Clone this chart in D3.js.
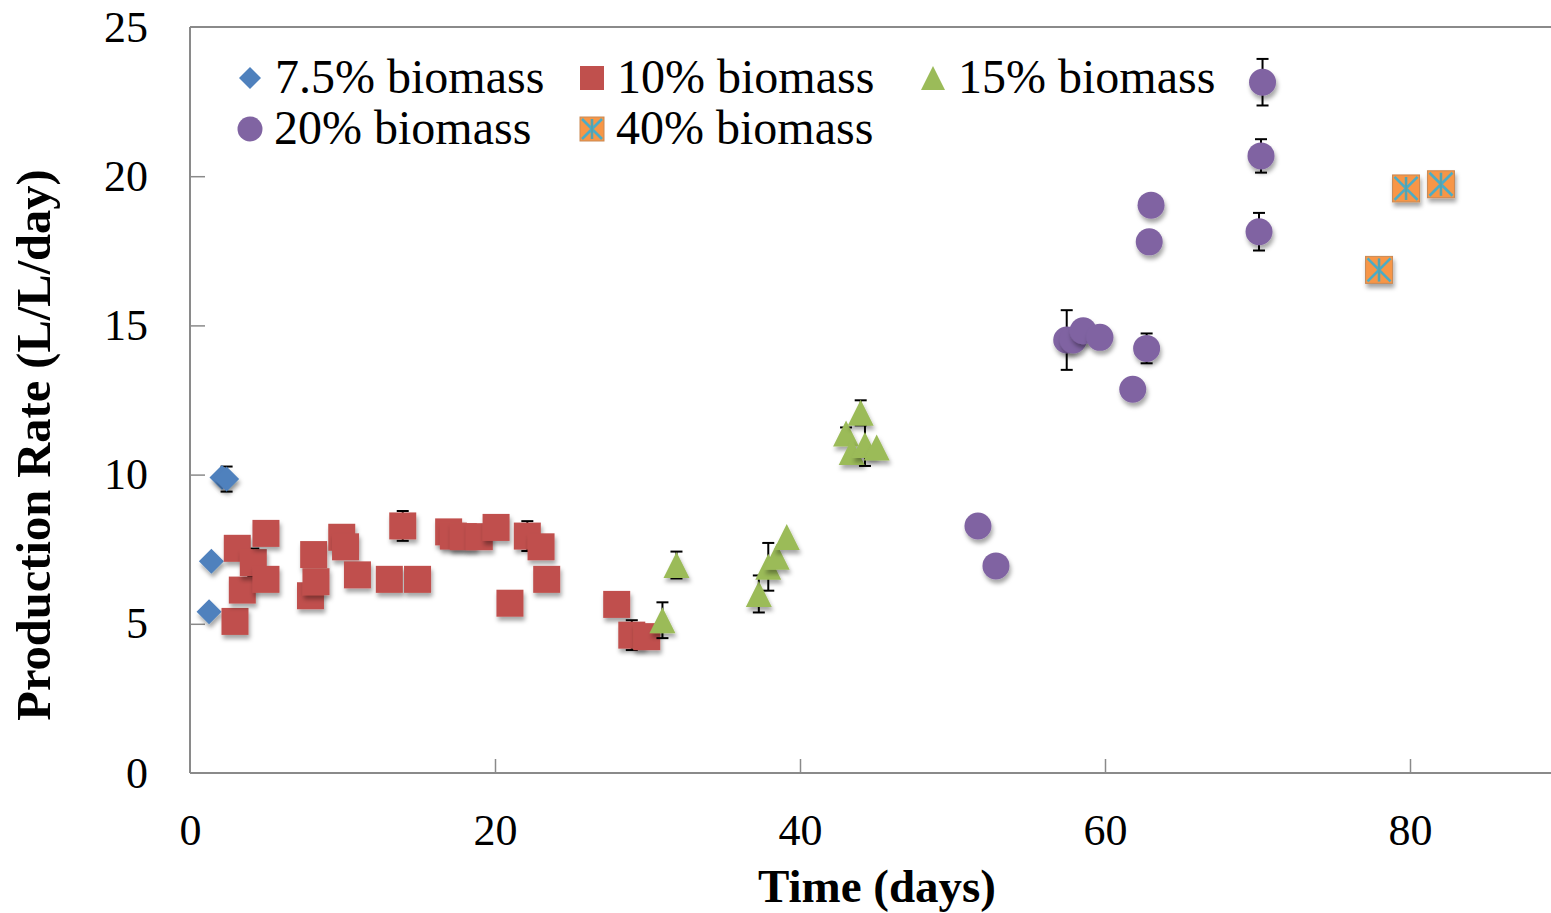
<!DOCTYPE html>
<html>
<head>
<meta charset="utf-8">
<script src="https://cdn.jsdelivr.net/npm/d3@7"></script>
<style>
  html, body { margin: 0; padding: 0; background: #fff; }
  svg { display: block; font-family: "Liberation Serif", "Times New Roman", serif; }
  svg text { font-family: "Liberation Serif", "Times New Roman", serif; }
</style>
</head>
<body>
<svg id="chart" width="1551" height="913"></svg>
<script>
// Production rate over time for different biomass loadings (mean ± error)
const days75 = [1.25, 1.4, 2.1, 2.4];
const rate75 = [5.4, 7.1, 9.9, 9.85];
const err75  = [0, 0, 0, 0.42];

const days10 = [2.95, 3.1, 3.43, 4.15, 4.98, 4.98, 7.9, 8.11, 8.26, 9.95, 10.2, 10.98,
                13.07, 13.95, 14.92, 16.96, 17.27, 17.92, 18.97, 20.07, 20.98, 22.12,
                23.02, 23.39, 27.98, 28.97, 29.95];
const rate10 = [5.08, 7.53, 6.13, 7.05, 8.03, 6.49, 5.94, 7.32, 6.41, 7.9, 7.58, 6.64,
                6.49, 8.28, 6.49, 8.08, 7.94, 7.92, 7.92, 8.23, 5.69, 7.94,
                7.58, 6.49, 5.65, 4.62, 4.57];
const err10  = [0, 0, 0, 0.47, 0, 0, 0, 0, 0, 0, 0, 0,
                0, 0.5, 0, 0, 0, 0, 0, 0, 0, 0.5,
                0, 0, 0, 0.5, 0];

const days15 = [30.98, 31.9, 37.3, 37.92, 38.47, 39.13, 43.02, 43.39, 43.98, 44.26, 45.03];
const rate15 = [5.12, 6.97, 6.0, 6.91, 7.25, 7.91, 11.38, 10.76, 12.07, 10.99, 10.91];
const err15  = [0.6, 0.45, 0.62, 0.8, 0, 0, 0.2, 0, 0.42, 0.7, 0];

const days20 = [51.67, 52.85, 57.49, 57.92, 58.57, 59.67, 61.82, 62.73, 62.9, 63.02,
                70.1, 70.23, 70.33];
const rate20 = [8.28, 6.94, 14.51, 14.51, 14.82, 14.6, 12.86, 14.23, 17.8, 19.03,
                18.14, 20.68, 23.15];
const err20  = [0, 0, 1.0, 0, 0, 0, 0, 0.5, 0, 0,
                0.63, 0.56, 0.78];

const days40 = [77.97, 79.74, 82.03];
const rate40 = [16.86, 19.59, 19.73];
const err40  = [0, 0, 0];

const seriesNames = ["7.5% biomass", "10% biomass", "15% biomass", "20% biomass", "40% biomass"];
const xTicks = [0, 20, 40, 60, 80];
const yTicks = [0, 5, 10, 15, 20, 25];

const series = [
  { name: seriesNames[0], shape: "diamond",  fill: "#4F81BD", days: days75, rate: rate75, err: err75 },
  { name: seriesNames[1], shape: "square",   fill: "#C0504D", days: days10, rate: rate10, err: err10 },
  { name: seriesNames[2], shape: "triangle", fill: "#9BBB59", days: days15, rate: rate15, err: err15 },
  { name: seriesNames[3], shape: "circle",   fill: "#8064A2", days: days20, rate: rate20, err: err20 },
  { name: seriesNames[4], shape: "star",     fill: "#F79646", days: days40, rate: rate40, err: err40 }
];

const FONT = "'Liberation Serif', 'Times New Roman', serif";
const svg = d3.select("#chart");
const plot = { left: 190, top: 27, bottom: 773 };

const x = d3.scaleLinear().domain([0, 90]).range([plot.left, plot.left + 90 * 15.25]);
const y = d3.scaleLinear().domain([0, 25]).range([plot.bottom, plot.top]);

// soft drop shadow under the markers
const defs = svg.append("defs");
const f = defs.append("filter").attr("id", "shadow")
  .attr("x", "-50%").attr("y", "-50%").attr("width", "200%").attr("height", "200%");
f.append("feDropShadow").attr("dx", 1.5).attr("dy", 4).attr("stdDeviation", 2.2)
  .attr("flood-color", "#000").attr("flood-opacity", 0.35);

const axisColor = "#8a8a8a";

// frame: left axis, bottom axis, top border
svg.append("line").attr("x1", plot.left).attr("x2", 1551).attr("y1", plot.top).attr("y2", plot.top)
  .attr("stroke", axisColor).attr("stroke-width", 2);

const xAxis = d3.axisBottom(x).tickValues(xTicks).tickSize(-14).tickPadding(0).tickFormat(d3.format("d"));
const gx = svg.append("g").attr("transform", `translate(0,${plot.bottom})`).call(xAxis)
  .attr("font-family", FONT);
gx.select(".domain").attr("stroke", axisColor).attr("stroke-width", 2)
  .attr("d", `M${plot.left},0H1551`);
gx.selectAll(".tick line").attr("stroke", axisColor).attr("stroke-width", 1.5)
  .filter(d => d === 0).remove();
gx.selectAll(".tick text").attr("y", 72).attr("dy", null)
  .attr("font-size", 44).attr("fill", "#000").attr("font-family", FONT);

const yAxis = d3.axisLeft(y).tickValues(yTicks).tickSize(-15).tickPadding(0);
const gy = svg.append("g").attr("transform", `translate(${plot.left},0)`).call(yAxis)
  .attr("font-family", FONT);
gy.select(".domain").attr("stroke", axisColor).attr("stroke-width", 2)
  .attr("d", `M0,${plot.top}V${plot.bottom}`);
gy.selectAll(".tick line").attr("stroke", axisColor).attr("stroke-width", 1.5)
  .filter(d => d === 0 || d === 25).remove();
gy.selectAll(".tick text").attr("x", -42).attr("dy", "0.32em")
  .attr("font-size", 44).attr("fill", "#000").attr("font-family", FONT);

// axis titles
svg.append("text").attr("x", 877).attr("y", 902).attr("text-anchor", "middle")
  .attr("font-family", FONT).attr("font-size", 47).attr("font-weight", "bold").text("Time (days)");
svg.append("text").attr("transform", "translate(50,445) rotate(-90)").attr("text-anchor", "middle")
  .attr("font-family", FONT).attr("font-size", 48.5).attr("font-weight", "bold")
  .text("Production Rate (L/L/day)");

// marker drawing helper
function drawMarker(g, shape, fill, s) {
  const h = s / 2;
  if (shape === "diamond") {
    g.append("path").attr("d", `M0,${-h}L${h},0L0,${h}L${-h},0Z`).attr("fill", fill);
  } else if (shape === "square") {
    g.append("rect").attr("x", -h).attr("y", -h).attr("width", s).attr("height", s).attr("fill", fill);
  } else if (shape === "triangle") {
    g.append("path").attr("d", `M0,${-h}L${h},${h}L${-h},${h}Z`).attr("fill", fill);
  } else if (shape === "circle") {
    g.append("circle").attr("r", h).attr("fill", fill);
  } else if (shape === "star") {
    g.append("rect").attr("x", -h).attr("y", -h).attr("width", s).attr("height", s)
      .attr("fill", fill).attr("stroke", "#c98a55").attr("stroke-width", 1);
    const a = h - 2;
    g.append("path").attr("d", `M0,${-a}V${a}M${-a},${-a}L${a},${a}M${a},${-a}L${-a},${a}`)
      .attr("stroke", "#4BACC6").attr("stroke-width", 2.6).attr("fill", "none");
    g.append("path").attr("d", `M0,${-a}V${a}`)
      .attr("stroke", "#6a8f7a").attr("stroke-width", 1).attr("fill", "none").attr("opacity", 0.6);
  }
}

const sizes = { diamond: 25, square: 27, triangle: 26, circle: 27, star: 27 };

series.forEach(s => {
  const pts = s.days.map((d, i) => ({ d, r: s.rate[i], e: s.err[i] }));
  const g = svg.append("g");
  // error bars (behind markers)
  const eb = g.append("g").attr("stroke", "#000").attr("stroke-width", 2);
  pts.filter(p => p.e > 0).forEach(p => {
    const cx = x(p.d), y1 = y(p.r + p.e), y2 = y(p.r - p.e);
    eb.append("line").attr("x1", cx).attr("x2", cx).attr("y1", y1).attr("y2", y2);
    eb.append("line").attr("x1", cx - 6).attr("x2", cx + 6).attr("y1", y1).attr("y2", y1);
    eb.append("line").attr("x1", cx - 6).attr("x2", cx + 6).attr("y1", y2).attr("y2", y2);
  });
  pts.forEach(p => {
    const m = g.append("g").attr("transform", `translate(${x(p.d)},${y(p.r)})`)
      .attr("filter", "url(#shadow)");
    drawMarker(m, s.shape, s.fill, sizes[s.shape]);
  });
});

// legend
const legendPos = [
  { mx: 250, tx: 275, by: 93, my: 78 },
  { mx: 592, tx: 617, by: 93, my: 78 },
  { mx: 933, tx: 958, by: 93, my: 78 },
  { mx: 250, tx: 274, by: 144, my: 129 },
  { mx: 592, tx: 616, by: 144, my: 129 }
];
const legendSizes = { diamond: 22, square: 24, triangle: 24, circle: 25, star: 24 };
series.forEach((s, i) => {
  const p = legendPos[i];
  const m = svg.append("g").attr("transform", `translate(${p.mx},${p.my})`);
  drawMarker(m, s.shape, s.fill, legendSizes[s.shape]);
  svg.append("text").attr("x", p.tx).attr("y", p.by).attr("font-family", FONT)
    .attr("font-size", 48).attr("fill", "#000").text(s.name);
});
</script>
</body>
</html>
